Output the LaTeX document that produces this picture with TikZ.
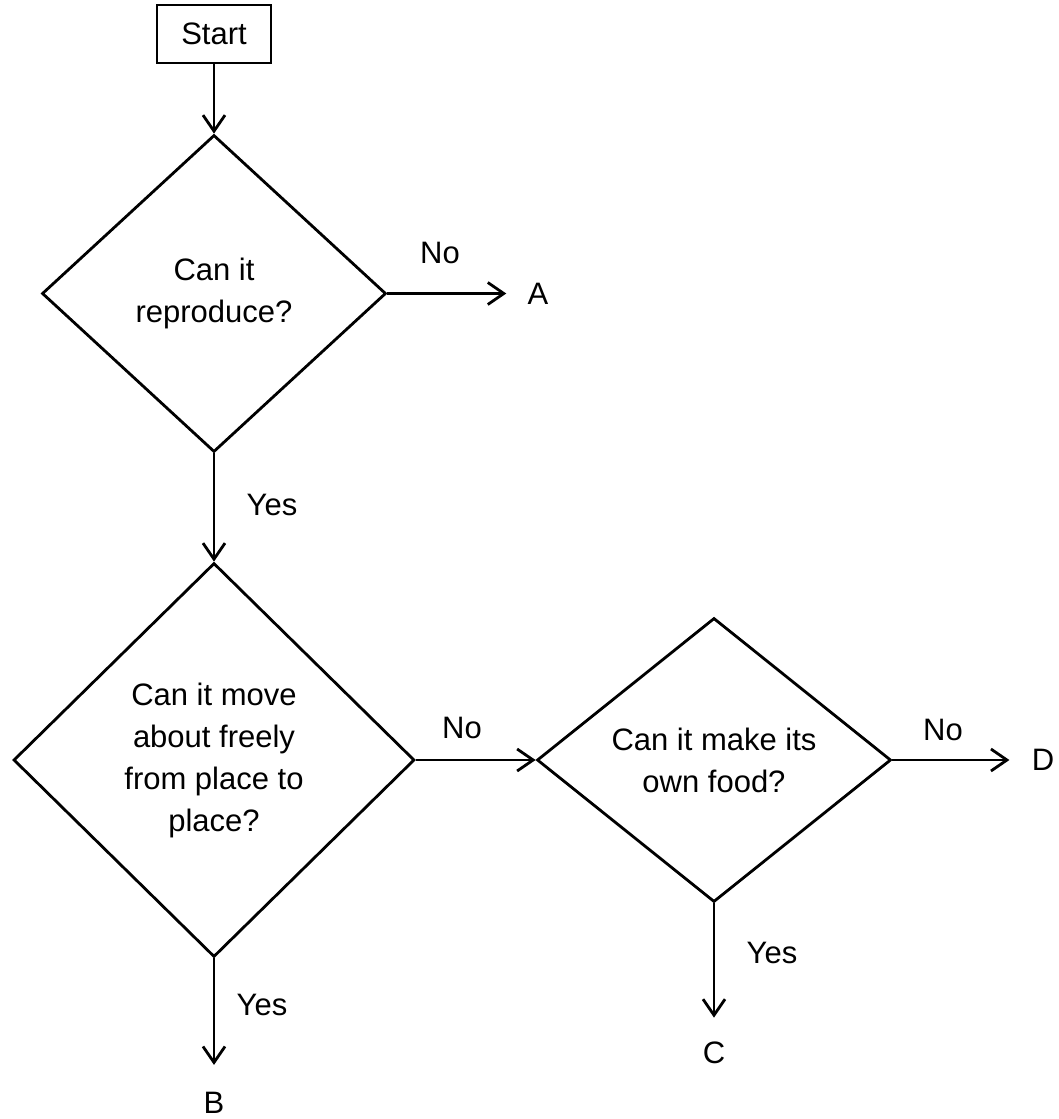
\documentclass[tikz,border=0pt]{standalone}
\usepackage{fontspec}
\setmainfont{Liberation Sans}
\usetikzlibrary{arrows.meta,shapes.geometric}

\begin{document}
\begin{tikzpicture}[x=0.5pt,y=-0.5pt,
  every node/.style={font=\fontsize{15.5}{21}\selectfont},
  query/.style={draw,diamond,line width=1.4pt,inner sep=0pt,align=center},
  flow/.style={-{Straight Barb[length=8pt,width=11pt]},line width=1.4pt},
  tag/.style={inner sep=0pt}]
  \useasboundingbox (0,0) rectangle (1059,1119);
  % boxes
  \node[draw,line width=1.4pt,minimum width=57pt,minimum height=29pt] (start) at (214,34) {Start};
  \node[query,minimum width=172pt,minimum height=158.5pt] (repro) at (214,293.5) {Can it\\reproduce?};
  \node[query,minimum width=200.5pt,minimum height=197pt] (move) at (214,760) {Can it move\\about freely\\from place to\\place?};
  \node[query,shape aspect=1.25,minimum width=177pt,minimum height=142pt] (food) at (714,760) {Can it make its\\own food?};
  % outcomes
  \node[tag] (A) at (538,293.5) {A};
  \node[tag] (B) at (214,1103) {B};
  \node[tag] (C) at (714,1053) {C};
  \node[tag] (D) at (1043,760) {D};
  % connectors
  \draw[flow] (start) -- (repro.north);
  \draw[flow,shorten >=10.5pt] (repro.east) -- (A);
  \draw[flow] (repro.south) -- (move.north);
  \draw[flow] (move.east) -- (food.west);
  \draw[flow,shorten >=13.5pt] (move.south) -- (B);
  \draw[flow,shorten >=11pt] (food.east) -- (D);
  \draw[flow,shorten >=12pt] (food.south) -- (C);
  % answers
  \node (no1) at (440,253) {No};
  \node (yes1) at (272,505) {Yes};
  \node (no2) at (462,728) {No};
  \node (yes2) at (262,1005) {Yes};
  \node (no3) at (943,730) {No};
  \node (yes3) at (772,953) {Yes};
\end{tikzpicture}
\end{document}
